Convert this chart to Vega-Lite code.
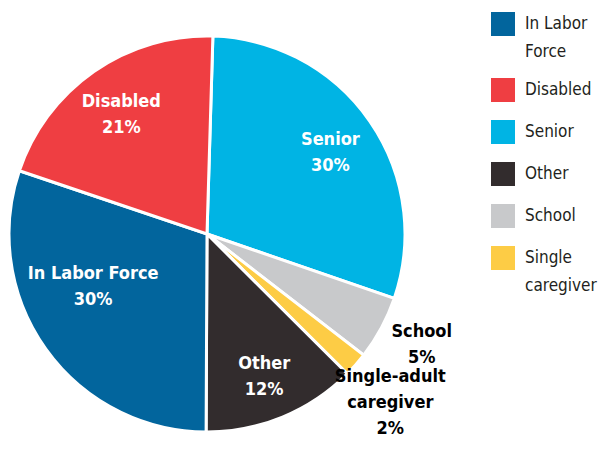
{
  "$schema": "https://vega.github.io/schema/vega-lite/v6.json",
  "width": 414,
  "height": 468,
  "autosize": "none",
  "padding": {"left": 0, "top": 0, "right": 189, "bottom": 0},
  "background": "white",
  "config": {"style": {"guide-label": {"lineHeight": 28}}},
  "data": {
    "values": [
      {"category": "Senior", "share": 29.8, "order": 1, "label": "Senior\n30%", "group": "inner"},
      {"category": "School", "share": 5.2, "order": 2, "label": "School\n5%", "group": "outer"},
      {"category": "Single caregiver", "share": 2.0, "order": 3, "label": "Single-adult\ncaregiver\n2%", "group": "outer"},
      {"category": "Other", "share": 12.6, "order": 4, "label": "Other\n12%", "group": "inner"},
      {"category": "In Labor Force", "share": 30.1, "order": 5, "label": "In Labor Force\n30%", "group": "inner2"},
      {"category": "Disabled", "share": 20.3, "order": 6, "label": "Disabled\n21%", "group": "inner"}
    ]
  },
  "encoding": {
    "theta": {"field": "share", "type": "quantitative", "stack": true, "scale": {"range": [0.0297, 6.3129]}},
    "order": {"field": "order", "type": "quantitative"}
  },
  "layer": [
    {
      "mark": {"type": "arc", "radius": 198, "stroke": "white", "strokeWidth": 3},
      "encoding": {
        "color": {
          "field": "category",
          "type": "nominal",
          "scale": {
            "domain": ["In Labor Force", "Disabled", "Senior", "Other", "School", "Single caregiver"],
            "range": ["#02659d", "#ef3e42", "#00b4e4", "#322c2d", "#c8c9cb", "#fdcc45"]
          },
          "legend": {
            "title": null,
            "orient": "none",
            "legendX": 491,
            "legendY": 12,
            "symbolType": "square",
            "symbolSize": 576,
            "symbolStrokeWidth": 0,
            "labelFont": "DejaVu Sans Condensed",
            "labelFontSize": 17,
            "labelColor": "#231f20",
            "labelOffset": 10,
            "rowPadding": 18,
            "labelLimit": 200,
            "labelExpr": "datum.label == 'In Labor Force' ? ['In Labor', 'Force'] : datum.label == 'Single caregiver' ? ['Single', 'caregiver'] : datum.label"
          }
        }
      }
    },
    {
      "mark": {
        "type": "text",
        "radius": 150,
        "dy": -9,
        "fill": "white",
        "font": "DejaVu Sans Condensed",
        "fontWeight": "bold",
        "fontSize": 18,
        "lineBreak": "\n",
        "lineHeight": 26,
        "align": "center",
        "baseline": "middle"
      },
      "encoding": {
        "text": {"condition": {"test": "datum.group == 'inner'", "field": "label"}, "value": ""}
      }
    },
    {
      "mark": {
        "type": "text",
        "radius": 140,
        "dy": -41,
        "fill": "white",
        "font": "DejaVu Sans Condensed",
        "fontWeight": "bold",
        "fontSize": 18,
        "lineBreak": "\n",
        "lineHeight": 26,
        "align": "center",
        "baseline": "middle"
      },
      "encoding": {
        "text": {"condition": {"test": "datum.group == 'inner2'", "field": "label"}, "value": ""}
      }
    },
    {
      "mark": {
        "type": "text",
        "radius": 244,
        "dy": -18,
        "fill": "black",
        "font": "DejaVu Sans Condensed",
        "fontWeight": "bold",
        "fontSize": 18,
        "lineBreak": "\n",
        "lineHeight": 26,
        "align": "center",
        "baseline": "middle"
      },
      "encoding": {
        "text": {"condition": {"test": "datum.group == 'outer'", "field": "label"}, "value": ""}
      }
    }
  ]
}
